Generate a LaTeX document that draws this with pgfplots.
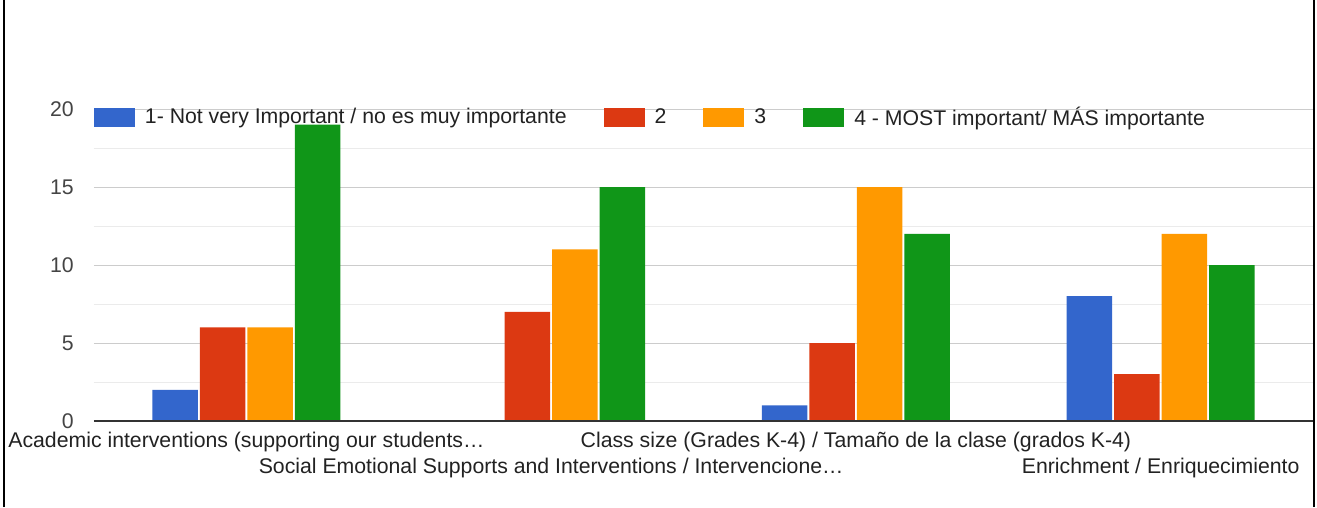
\documentclass[border=0pt]{standalone}
\usepackage{fontspec}
\setmainfont{Liberation Sans}
\usepackage{pgfplots}
\pgfplotsset{compat=1.18}
\definecolor{gblue}{HTML}{3366CC}
\definecolor{gred}{HTML}{DC3912}
\definecolor{gorange}{HTML}{FF9900}
\definecolor{ggreen}{HTML}{109618}
\definecolor{txt}{HTML}{222222}
\definecolor{ytxt}{HTML}{444444}
\definecolor{gridmaj}{HTML}{CCCCCC}
\definecolor{gridmin}{HTML}{EBEBEB}
\definecolor{baseln}{HTML}{333333}
\pgfplotsset{mylegend/.style={legend image code/.code={\fill[##1] (0pt,-9.7pt) rectangle (41pt,9.3pt);}}}
\newcommand{\chartfont}{\fontsize{21.25}{25}\selectfont}
\begin{document}
\begin{tikzpicture}[x=1pt,y=1pt]
\useasboundingbox (-94,-86) rectangle (1223,421);
\fill[white] (-94,-86) rectangle (1223,421);
\draw[black, line width=2pt] (-90.3,-86) -- (-90.3,421);
\draw[black, line width=2pt] (1220.3,-86) -- (1220.3,421);
\begin{axis}[
  at={(0,0)}, anchor=south west,
  scale only axis, width=1219pt, height=312pt,
  xmin=-0.5, xmax=3.5, ymin=0, ymax=20,
  enlargelimits=false,
  ybar=2pt, bar width=45.5pt,
  axis line style={draw=none},
  major tick length=0pt, minor tick length=0pt,
  xtick={0,2},
  xticklabels={Academic interventions (supporting our students…, Class size (Grades K-4) / Tamaño de la clase (grados K-4)},
  extra x ticks={1,3},
  extra x tick labels={Social Emotional Supports and Interventions / Intervencione…, Enrichment / Enriquecimiento},
  extra x tick style={xticklabel style={yshift=-26pt}},
  xticklabel style={anchor=base, yshift=-26pt, font=\chartfont, text=txt},
  ytick={0,5,10,15,20},
  minor ytick={2.5,7.5,12.5,17.5},
  ymajorgrids, yminorgrids,
  major grid style={draw=gridmaj, line width=1pt},
  minor grid style={draw=gridmin, line width=1pt},
  yticklabel style={anchor=east, inner sep=0pt, xshift=-20pt, font=\chartfont, text=ytxt},
  /pgf/number format/assume math mode=true,
  legend columns=-1,
  legend style={at={(0,0.9748)}, anchor=west, draw=none, fill=none, inner sep=0pt, outer sep=0pt,
    font=\chartfont, text=txt, nodes={inner sep=0pt},
    /tikz/every odd column/.append style={column sep=10pt},
    /tikz/every even column/.append style={column sep=37pt}},
]
\addplot[fill=gblue, draw=none, mylegend] coordinates {(0,2) (1,0) (2,1) (3,8)};
\addplot[fill=gred, draw=none, mylegend] coordinates {(0,6) (1,7) (2,5) (3,3)};
\addplot[fill=gorange, draw=none, mylegend] coordinates {(0,6) (1,11) (2,15) (3,12)};
\addplot[fill=ggreen, draw=none, mylegend] coordinates {(0,19) (1,15) (2,12) (3,10)};
\legend{1- Not very Important / no es muy importante, 2, 3, 4 - MOST important/ MÁS importante}
\draw[baseln, line width=2pt] (axis cs:-0.5,0) -- (axis cs:3.5,0);
\end{axis}
\end{tikzpicture}
\end{document}
